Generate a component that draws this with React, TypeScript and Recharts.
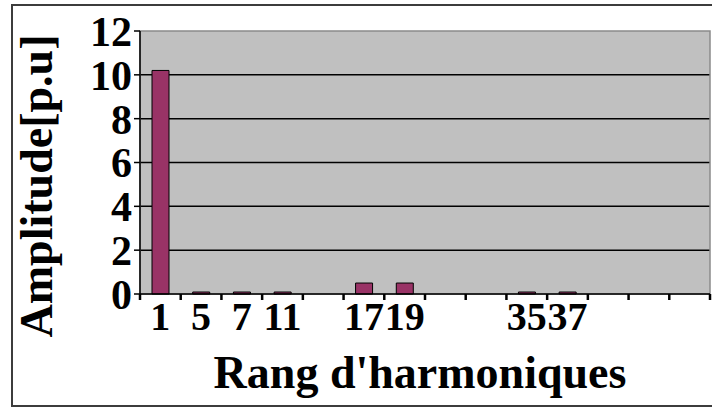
import React from 'react';
import {
  BarChart,
  Bar,
  XAxis,
  YAxis,
  CartesianGrid,
  ReferenceArea,
} from 'recharts';

// harmonic ranks (blank = empty cell in the sheet)
const harmonicLabels = ['1', '5', '7', '11', '', '17', '19', '', '', '35', '37', '', '', ''];
const amplitudes = [10.2, 0, 0, 0, null, 0.5, 0.5, null, null, 0, 0, null, null, null];
const yTicks = [0, 2, 4, 6, 8, 10, 12];
const gridValues = [2, 4, 6, 8, 10];

const data = harmonicLabels.map((rang, i) => ({ rang, amplitude: amplitudes[i] }));

const serif = '"Liberation Serif", "Times New Roman", serif';

// Excel-style category tick: mark on the category boundary, label in the middle
function RangTick(props: any) {
  const { x, y, payload, index } = props;
  const half = payload && payload.offset ? payload.offset : 20;
  const last = index === harmonicLabels.length - 1;
  return (
    <g>
      <line x1={x - half} x2={x - half} y1={y} y2={y + 6} stroke="#000" strokeWidth={2.5} />
      {last && (
        <line x1={x + half} x2={x + half} y1={y} y2={y + 6} stroke="#000" strokeWidth={2.5} />
      )}
      <text
        x={x}
        y={y + 8}
        dy="0.71em"
        textAnchor="middle"
        fill="#000"
        fontFamily={serif}
        fontWeight="bold"
        fontSize={40}
      >
        {payload.value}
      </text>
    </g>
  );
}

export default function App() {
  return (
    <div
      style={{
        position: 'absolute',
        left: 0,
        top: 0,
        width: 712,
        height: 409,
        overflow: 'hidden',
        background: '#fff',
      }}
    >
      <div
        style={{
          position: 'absolute',
          left: 11,
          top: 4,
          width: 800,
          height: 399,
          border: '2px solid #3c3c3c',
        }}
      />
      <div style={{ position: 'absolute', left: 0, top: 0 }}>
        <BarChart
          width={712}
          height={409}
          data={data}
          margin={{ top: 31, right: 2, left: 60, bottom: 75 }}
          barSize={17}
        >
          <CartesianGrid
            fill="#c0c0c0"
            stroke="#000"
            strokeWidth={1.5}
            vertical={false}
            horizontalValues={gridValues}
          />
          <ReferenceArea y1={0} y2={12} fill="none" stroke="#8a8a8a" strokeWidth={1.5} />
          <XAxis
            dataKey="rang"
            height={40}
            interval={0}
            tickSize={0}
            tickMargin={0}
            tickLine={false}
            axisLine={{ stroke: '#000', strokeWidth: 1.5 }}
            tick={<RangTick />}
          />
          <YAxis
            width={80}
            domain={[0, 12]}
            ticks={yTicks}
            interval={0}
            tickSize={6}
            tickLine={{ stroke: '#000', strokeWidth: 1.5 }}
            axisLine={{ stroke: '#000', strokeWidth: 1.5 }}
            tick={{ fill: '#000', fontFamily: serif, fontWeight: 'bold', fontSize: 42 }}
            label={() => (
              <text
                x={52}
                y={186}
                transform="rotate(-90 52 186)"
                textAnchor="middle"
                fill="#000"
                fontFamily={serif}
                fontWeight="bold"
                fontSize={46}
              >
                Amplitude[p.u]
              </text>
            )}
          />
          <Bar
            dataKey="amplitude"
            fill="#993366"
            stroke="#000"
            strokeWidth={1}
            minPointSize={(v: number | null) => (v === 0 ? 2 : 0)}
            isAnimationActive={false}
          />
          <text
            x={420}
            y={388}
            textAnchor="middle"
            fill="#000"
            fontFamily={serif}
            fontWeight="bold"
            fontSize={46}
          >
            Rang d'harmoniques
          </text>
        </BarChart>
      </div>
    </div>
  );
}
